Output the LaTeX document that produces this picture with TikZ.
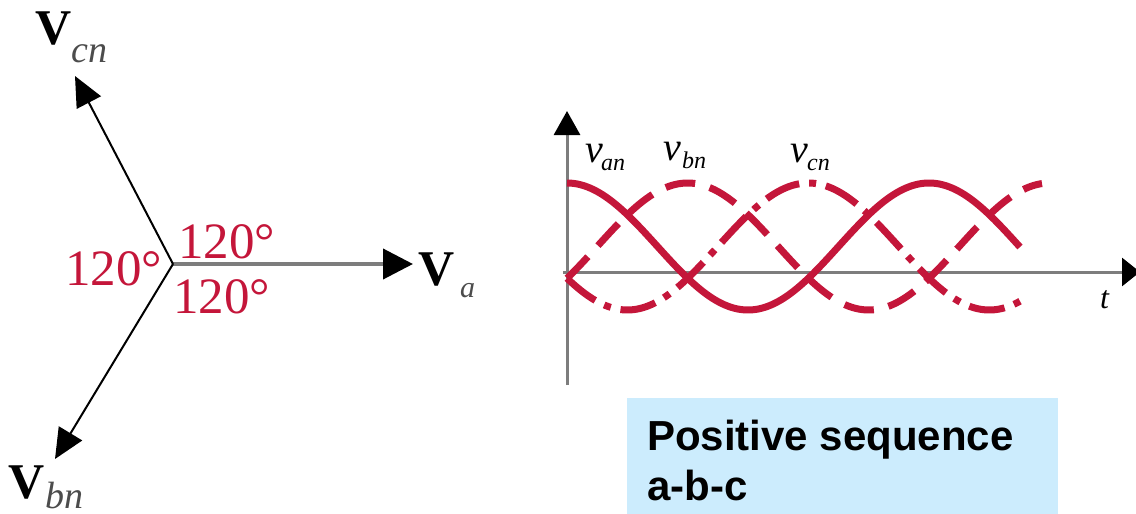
\documentclass[tikz,border=0pt]{standalone}
\usepackage{fontspec}
\setmainfont{Liberation Serif}
\newfontfamily\boxfont{Liberation Sans}
\usetikzlibrary{arrows.meta}
\definecolor{wave}{RGB}{196,22,58}
\definecolor{axisgray}{RGB}{125,125,125}
\definecolor{boxblue}{RGB}{204,236,253}
\tikzset{
  phasor/.style={line width=2pt, black, -{Triangle[length=30pt,width=27pt]}},
  refphasor/.style={line width=4pt, axisgray, -{Triangle[length=30pt,width=30pt,color=black]}},
  axisline/.style={line width=3pt, axisgray},
  wavesolid/.style={line width=7pt, wave},
  wavedash/.style={line width=7pt, wave, dash pattern=on 30pt off 15pt},
  wavedashdot/.style={line width=7pt, wave, dash pattern=on 36pt off 10pt on 7pt off 10pt},
  anglelab/.style={anchor=base west, inner sep=0pt, text=wave, font=\fontsize{51}{51}\selectfont},
  vlab/.style={anchor=base west, inner sep=0pt, font=\fontsize{50}{50}\selectfont\bfseries},
  vsub/.style={anchor=base west, inner sep=0pt, text=black!70, font=\fontsize{38}{38}\selectfont\itshape},
  wlab/.style={anchor=base west, inner sep=0pt, font=\fontsize{40}{40}\selectfont\itshape},
  wsub/.style={anchor=base west, inner sep=0pt, font=\fontsize{24}{24}\selectfont\itshape},
  boxtext/.style={anchor=base west, inner sep=0pt, font=\fontsize{42}{50}\selectfont\boxfont\bfseries},
}
\begin{document}
\begin{tikzpicture}[x=1pt,y=-1pt]
\useasboundingbox (0,0) rectangle (1136,514);
% phasor diagram
\coordinate (O) at (173,264);
\coordinate (Atip) at (413,264);
\coordinate (Ctip) at (75,76);
\coordinate (Btip) at (55,459);
\draw[refphasor] (O) -- (Atip);
\draw[phasor] (O) -- (Ctip);
\draw[phasor] (O) -- (Btip);
\node[vlab] (Vc) at (35,45) {V};
\node[vsub] (Vcs) at (71,62) {cn};
\node[vlab] (Vb) at (8,498) {V};
\node[vsub] (Vbs) at (45,508) {bn};
\node[vlab] (Va) at (418,285) {V};
\node[vsub, font=\fontsize{30}{30}\selectfont\itshape] (Vas) at (460,297) {a};
\node[anglelab] (a1) at (65,285) {120°};
\node[anglelab] (a2) at (178,258) {120°};
\node[anglelab] (a3) at (173,313) {120°};
% waveform axes
\coordinate (yb) at (567,385);
\coordinate (yt) at (567,111);
\coordinate (xl) at (563,272);
\coordinate (xr) at (1140,272);
\draw[axisline, -{Triangle[length=24pt,width=26pt,color=black]}] (yb) -- (yt);
\draw[axisline, -{Triangle[length=18pt,width=28pt,color=black]}] (xl) -- (xr);
\node[anchor=base west, inner sep=0pt, font=\fontsize{32}{32}\selectfont\itshape] (t) at (1100,308) {t};
% waves
\draw[wavesolid] plot[domain=567:1020, samples=200, smooth] (\x, {246.5-63.5*cos((\x-567)/362*360)});
\draw[wavedash] plot[domain=567:1042, samples=200, smooth] (\x, {246.5-63.5*cos((\x-567)/362*360-120)});
\draw[wavedashdot] plot[domain=567:1020, samples=200, smooth] (\x, {246.5-63.5*cos((\x-567)/362*360+120)});
\node[wlab] (van) at (585,162) {v};
\node[wsub] (vans) at (601,170) {an};
\node[wlab] (vbn) at (663,160) {v};
\node[wsub] (vbns) at (682,168) {bn};
\node[wlab] (vcn) at (790,162) {v};
\node[wsub] (vcns) at (807,170) {cn};
% box
\node[fill=boxblue, anchor=north west, inner sep=0pt, minimum width=431pt, minimum height=118pt] (box) at (627,398) {};
\node[boxtext] (l1) at (647,450) {Positive sequence};
\node[boxtext] (l2) at (647,500) {a-b-c};
\end{tikzpicture}
\end{document}
